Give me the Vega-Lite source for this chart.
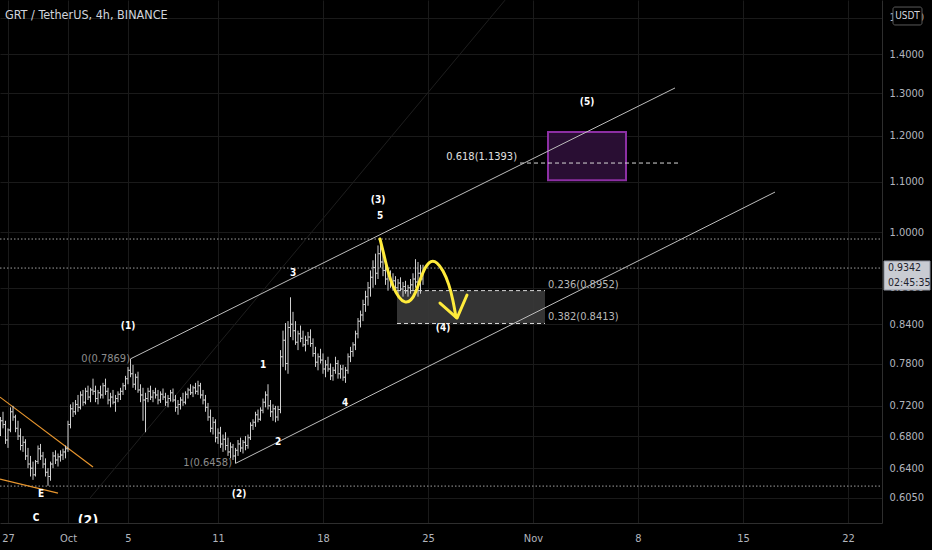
{
  "$schema": "https://vega.github.io/schema/vega-lite/v6.json",
  "width": 882,
  "height": 523,
  "autosize": {"type": "none"},
  "padding": {"left": 0, "top": 0, "right": 50, "bottom": 27},
  "background": "#000000",
  "config": {"view": {"stroke": null}, "text": {"font": "Liberation Sans Narrow, DejaVu Sans Condensed, sans-serif"}},
  "datasets": {
    "bars": [
      {"t":-12,"o":0.690,"h":0.705,"l":0.680,"c":0.700},{"t":-8,"o":0.700,"h":0.712,"l":0.690,"c":0.695},{"t":-4,"o":0.695,"h":0.700,"l":0.670,"c":0.675},{"t":0,"o":0.675,"h":0.690,"l":0.665,"c":0.688},
      {"t":4,"o":0.688,"h":0.718,"l":0.685,"c":0.712},{"t":8,"o":0.712,"h":0.720,"l":0.700,"c":0.705},{"t":12,"o":0.705,"h":0.708,"l":0.685,"c":0.690},{"t":16,"o":0.690,"h":0.700,"l":0.675,"c":0.680},
      {"t":20,"o":0.680,"h":0.690,"l":0.662,"c":0.668},{"t":24,"o":0.668,"h":0.680,"l":0.660,"c":0.672},{"t":28,"o":0.672,"h":0.676,"l":0.650,"c":0.655},{"t":32,"o":0.655,"h":0.665,"l":0.640,"c":0.645},
      {"t":36,"o":0.645,"h":0.655,"l":0.630,"c":0.640},{"t":40,"o":0.640,"h":0.648,"l":0.626,"c":0.632},{"t":44,"o":0.632,"h":0.650,"l":0.630,"c":0.648},{"t":48,"o":0.648,"h":0.668,"l":0.645,"c":0.664},
      {"t":52,"o":0.664,"h":0.670,"l":0.650,"c":0.655},{"t":56,"o":0.655,"h":0.660,"l":0.640,"c":0.645},{"t":60,"o":0.645,"h":0.652,"l":0.630,"c":0.635},{"t":64,"o":0.635,"h":0.640,"l":0.619,"c":0.630},
      {"t":68,"o":0.630,"h":0.648,"l":0.625,"c":0.645},{"t":72,"o":0.645,"h":0.660,"l":0.640,"c":0.655},{"t":76,"o":0.655,"h":0.662,"l":0.645,"c":0.650},{"t":80,"o":0.650,"h":0.658,"l":0.642,"c":0.654},
      {"t":84,"o":0.654,"h":0.662,"l":0.648,"c":0.656},{"t":88,"o":0.656,"h":0.664,"l":0.650,"c":0.660},{"t":92,"o":0.660,"h":0.668,"l":0.652,"c":0.664},{"t":96,"o":0.664,"h":0.700,"l":0.660,"c":0.695},
      {"t":100,"o":0.695,"h":0.722,"l":0.690,"c":0.716},{"t":104,"o":0.716,"h":0.725,"l":0.705,"c":0.712},{"t":108,"o":0.712,"h":0.728,"l":0.708,"c":0.722},{"t":112,"o":0.722,"h":0.735,"l":0.712,"c":0.718},
      {"t":116,"o":0.718,"h":0.740,"l":0.715,"c":0.735},{"t":120,"o":0.735,"h":0.742,"l":0.720,"c":0.725},{"t":124,"o":0.725,"h":0.745,"l":0.722,"c":0.740},{"t":128,"o":0.740,"h":0.748,"l":0.728,"c":0.732},
      {"t":132,"o":0.732,"h":0.745,"l":0.725,"c":0.742},{"t":136,"o":0.742,"h":0.758,"l":0.735,"c":0.740},{"t":140,"o":0.740,"h":0.748,"l":0.725,"c":0.730},{"t":144,"o":0.730,"h":0.742,"l":0.722,"c":0.738},
      {"t":148,"o":0.738,"h":0.748,"l":0.730,"c":0.735},{"t":152,"o":0.735,"h":0.752,"l":0.730,"c":0.748},{"t":156,"o":0.748,"h":0.758,"l":0.735,"c":0.740},{"t":160,"o":0.740,"h":0.745,"l":0.722,"c":0.728},
      {"t":164,"o":0.728,"h":0.738,"l":0.718,"c":0.732},{"t":168,"o":0.732,"h":0.742,"l":0.722,"c":0.725},{"t":172,"o":0.725,"h":0.735,"l":0.712,"c":0.730},{"t":176,"o":0.730,"h":0.740,"l":0.725,"c":0.736},
      {"t":180,"o":0.736,"h":0.745,"l":0.728,"c":0.740},{"t":184,"o":0.740,"h":0.752,"l":0.735,"c":0.748},{"t":188,"o":0.748,"h":0.762,"l":0.742,"c":0.758},{"t":192,"o":0.758,"h":0.775,"l":0.750,"c":0.770},
      {"t":196,"o":0.770,"h":0.7869,"l":0.760,"c":0.765},{"t":200,"o":0.765,"h":0.778,"l":0.745,"c":0.750},{"t":204,"o":0.750,"h":0.765,"l":0.742,"c":0.760},{"t":208,"o":0.760,"h":0.768,"l":0.738,"c":0.742},
      {"t":212,"o":0.742,"h":0.750,"l":0.725,"c":0.735},{"t":216,"o":0.735,"h":0.745,"l":0.700,"c":0.728},{"t":220,"o":0.728,"h":0.738,"l":0.685,"c":0.730},{"t":224,"o":0.730,"h":0.745,"l":0.725,"c":0.740},
      {"t":228,"o":0.740,"h":0.748,"l":0.728,"c":0.732},{"t":232,"o":0.732,"h":0.742,"l":0.725,"c":0.738},{"t":236,"o":0.738,"h":0.745,"l":0.730,"c":0.735},{"t":240,"o":0.735,"h":0.742,"l":0.722,"c":0.728},
      {"t":244,"o":0.728,"h":0.740,"l":0.724,"c":0.736},{"t":248,"o":0.736,"h":0.744,"l":0.728,"c":0.732},{"t":252,"o":0.732,"h":0.738,"l":0.720,"c":0.725},{"t":256,"o":0.725,"h":0.735,"l":0.718,"c":0.730},
      {"t":260,"o":0.730,"h":0.742,"l":0.726,"c":0.738},{"t":264,"o":0.738,"h":0.744,"l":0.725,"c":0.728},{"t":268,"o":0.728,"h":0.735,"l":0.712,"c":0.718},{"t":272,"o":0.718,"h":0.728,"l":0.708,"c":0.722},
      {"t":276,"o":0.722,"h":0.732,"l":0.715,"c":0.728},{"t":280,"o":0.728,"h":0.738,"l":0.720,"c":0.725},{"t":284,"o":0.725,"h":0.740,"l":0.722,"c":0.736},{"t":288,"o":0.736,"h":0.745,"l":0.730,"c":0.742},
      {"t":292,"o":0.742,"h":0.750,"l":0.735,"c":0.738},{"t":296,"o":0.738,"h":0.748,"l":0.732,"c":0.745},{"t":300,"o":0.745,"h":0.752,"l":0.736,"c":0.740},{"t":304,"o":0.740,"h":0.755,"l":0.735,"c":0.748},
      {"t":308,"o":0.748,"h":0.752,"l":0.730,"c":0.735},{"t":312,"o":0.735,"h":0.742,"l":0.722,"c":0.728},{"t":316,"o":0.728,"h":0.735,"l":0.712,"c":0.718},{"t":320,"o":0.718,"h":0.724,"l":0.700,"c":0.705},
      {"t":324,"o":0.705,"h":0.715,"l":0.685,"c":0.690},{"t":328,"o":0.690,"h":0.705,"l":0.682,"c":0.698},{"t":332,"o":0.698,"h":0.702,"l":0.672,"c":0.678},{"t":336,"o":0.678,"h":0.690,"l":0.670,"c":0.684},
      {"t":340,"o":0.684,"h":0.692,"l":0.665,"c":0.670},{"t":344,"o":0.670,"h":0.682,"l":0.660,"c":0.676},{"t":348,"o":0.676,"h":0.685,"l":0.662,"c":0.668},{"t":352,"o":0.668,"h":0.678,"l":0.655,"c":0.660},
      {"t":356,"o":0.660,"h":0.672,"l":0.652,"c":0.666},{"t":360,"o":0.666,"h":0.670,"l":0.650,"c":0.655},{"t":364,"o":0.655,"h":0.665,"l":0.6458,"c":0.662},{"t":368,"o":0.662,"h":0.675,"l":0.655,"c":0.670},
      {"t":372,"o":0.670,"h":0.678,"l":0.660,"c":0.665},{"t":376,"o":0.665,"h":0.675,"l":0.658,"c":0.672},{"t":380,"o":0.672,"h":0.680,"l":0.662,"c":0.668},{"t":384,"o":0.668,"h":0.682,"l":0.664,"c":0.678},
      {"t":388,"o":0.678,"h":0.698,"l":0.675,"c":0.694},{"t":392,"o":0.694,"h":0.702,"l":0.688,"c":0.698},{"t":396,"o":0.698,"h":0.712,"l":0.692,"c":0.708},{"t":400,"o":0.708,"h":0.715,"l":0.698,"c":0.702},
      {"t":404,"o":0.702,"h":0.718,"l":0.700,"c":0.714},{"t":408,"o":0.714,"h":0.730,"l":0.710,"c":0.725},{"t":412,"o":0.725,"h":0.740,"l":0.718,"c":0.735},{"t":416,"o":0.735,"h":0.750,"l":0.715,"c":0.720},
      {"t":420,"o":0.720,"h":0.728,"l":0.705,"c":0.712},{"t":424,"o":0.712,"h":0.722,"l":0.700,"c":0.716},{"t":428,"o":0.716,"h":0.720,"l":0.698,"c":0.705},{"t":432,"o":0.705,"h":0.720,"l":0.700,"c":0.715},
      {"t":436,"o":0.715,"h":0.800,"l":0.710,"c":0.790},{"t":440,"o":0.790,"h":0.830,"l":0.775,"c":0.815},{"t":444,"o":0.815,"h":0.842,"l":0.770,"c":0.780},{"t":448,"o":0.780,"h":0.845,"l":0.765,"c":0.835},
      {"t":452,"o":0.835,"h":0.884,"l":0.820,"c":0.840},{"t":456,"o":0.840,"h":0.860,"l":0.815,"c":0.830},{"t":460,"o":0.830,"h":0.845,"l":0.808,"c":0.812},{"t":464,"o":0.812,"h":0.830,"l":0.800,"c":0.825},
      {"t":468,"o":0.825,"h":0.838,"l":0.812,"c":0.818},{"t":472,"o":0.818,"h":0.830,"l":0.805,"c":0.808},{"t":476,"o":0.808,"h":0.822,"l":0.798,"c":0.815},{"t":480,"o":0.815,"h":0.828,"l":0.808,"c":0.820},
      {"t":484,"o":0.820,"h":0.832,"l":0.805,"c":0.810},{"t":488,"o":0.810,"h":0.818,"l":0.790,"c":0.795},{"t":492,"o":0.795,"h":0.805,"l":0.775,"c":0.782},{"t":496,"o":0.782,"h":0.795,"l":0.770,"c":0.790},
      {"t":500,"o":0.790,"h":0.802,"l":0.780,"c":0.785},{"t":504,"o":0.785,"h":0.795,"l":0.765,"c":0.772},{"t":508,"o":0.772,"h":0.785,"l":0.760,"c":0.778},{"t":512,"o":0.778,"h":0.790,"l":0.768,"c":0.772},
      {"t":516,"o":0.772,"h":0.780,"l":0.756,"c":0.762},{"t":520,"o":0.762,"h":0.775,"l":0.755,"c":0.770},{"t":524,"o":0.770,"h":0.790,"l":0.765,"c":0.780},{"t":528,"o":0.780,"h":0.785,"l":0.758,"c":0.765},
      {"t":532,"o":0.765,"h":0.778,"l":0.758,"c":0.772},{"t":536,"o":0.772,"h":0.778,"l":0.755,"c":0.760},{"t":540,"o":0.760,"h":0.775,"l":0.752,"c":0.770},{"t":544,"o":0.770,"h":0.795,"l":0.765,"c":0.790},
      {"t":548,"o":0.790,"h":0.805,"l":0.782,"c":0.798},{"t":552,"o":0.798,"h":0.812,"l":0.790,"c":0.808},{"t":556,"o":0.808,"h":0.830,"l":0.800,"c":0.825},{"t":560,"o":0.825,"h":0.850,"l":0.818,"c":0.845},
      {"t":564,"o":0.845,"h":0.862,"l":0.835,"c":0.855},{"t":568,"o":0.855,"h":0.880,"l":0.845,"c":0.872},{"t":572,"o":0.872,"h":0.895,"l":0.860,"c":0.885},{"t":576,"o":0.885,"h":0.910,"l":0.870,"c":0.900},
      {"t":580,"o":0.900,"h":0.930,"l":0.885,"c":0.918},{"t":584,"o":0.918,"h":0.948,"l":0.900,"c":0.935},{"t":588,"o":0.935,"h":0.960,"l":0.905,"c":0.925},{"t":592,"o":0.925,"h":0.975,"l":0.915,"c":0.960},
      {"t":596,"o":0.960,"h":0.988,"l":0.935,"c":0.945},{"t":600,"o":0.945,"h":0.965,"l":0.920,"c":0.930},{"t":604,"o":0.930,"h":0.950,"l":0.905,"c":0.915},{"t":608,"o":0.915,"h":0.935,"l":0.895,"c":0.920},
      {"t":612,"o":0.920,"h":0.930,"l":0.900,"c":0.905},{"t":616,"o":0.905,"h":0.925,"l":0.895,"c":0.912},{"t":620,"o":0.912,"h":0.920,"l":0.892,"c":0.900},{"t":624,"o":0.900,"h":0.915,"l":0.890,"c":0.908},
      {"t":628,"o":0.908,"h":0.918,"l":0.895,"c":0.898},{"t":632,"o":0.898,"h":0.910,"l":0.885,"c":0.902},{"t":636,"o":0.902,"h":0.912,"l":0.890,"c":0.895},{"t":640,"o":0.895,"h":0.905,"l":0.885,"c":0.900},
      {"t":644,"o":0.900,"h":0.915,"l":0.890,"c":0.905},{"t":648,"o":0.905,"h":0.925,"l":0.895,"c":0.915},{"t":652,"o":0.915,"h":0.950,"l":0.900,"c":0.910},{"t":656,"o":0.910,"h":0.945,"l":0.885,"c":0.925},
      {"t":660,"o":0.925,"h":0.940,"l":0.890,"c":0.915},{"t":664,"o":0.915,"h":0.940,"l":0.905,"c":0.934}
    ],
    "lines": [
      {"id":"up","s":0,"t":196,"p":0.7869},{"id":"up","s":1,"t":1067.2,"p":1.313},
      {"id":"lo","s":0,"t":364,"p":0.6458},{"id":"lo","s":1,"t":1227.2,"p":1.0785},
      {"id":"f1","s":0,"t":131.2,"p":0.6048},{"id":"f1","s":1,"t":795.2,"p":1.55},
      {"id":"o1","s":0,"t":-12.8,"p":0.732},{"id":"o1","s":1,"t":136,"p":0.6413},
      {"id":"o2","s":0,"t":-12.8,"p":0.627},{"id":"o2","s":1,"t":80,"p":0.6105},
      {"id":"yc","s":0,"t":595.2,"p":0.9869},{"id":"yc","s":1,"t":601.6,"p":0.9575},{"id":"yc","s":2,"t":608,"p":0.9272},{"id":"yc","s":3,"t":616,"p":0.9013},
      {"id":"yc","s":4,"t":625.6,"p":0.8827},{"id":"yc","s":5,"t":635.2,"p":0.8744},{"id":"yc","s":6,"t":644.8,"p":0.8777},{"id":"yc","s":7,"t":652.8,"p":0.8928},
      {"id":"yc","s":8,"t":659.2,"p":0.9133},{"id":"yc","s":9,"t":667.2,"p":0.936},{"id":"yc","s":10,"t":676.8,"p":0.9484},{"id":"yc","s":11,"t":686.4,"p":0.9449},
      {"id":"yc","s":12,"t":696,"p":0.9307},{"id":"yc","s":13,"t":705.6,"p":0.9064},{"id":"yc","s":14,"t":712,"p":0.8794},{"id":"yc","s":15,"t":716.8,"p":0.8516},
      {"id":"ya","s":0,"t":691.2,"p":0.8744},{"id":"ya","s":1,"t":718.4,"p":0.85},{"id":"ya","s":2,"t":734.4,"p":0.8878}
    ],
    "boxes": [
      {"id":"fib","t":622.4,"t2":859.2,"p":0.8413,"p2":0.8952},
      {"id":"tgt","t":864,"t2":988.8,"p":1.103,"p2":1.208},
      {"id":"pbox","t":1401.6,"t2":1475.2,"p":0.8962,"p2":0.9467},
      {"id":"usdt","t":1416,"t2":1462.4,"p":1.479,"p2":1.53}
    ],
    "hl": [
      {"t":-12.8,"t2":1398.4,"p":0.9869},
      {"t":-12.8,"t2":1398.4,"p":0.9342},
      {"t":-12.8,"t2":1398.4,"p":0.6187}
    ],
    "fibl": [
      {"t":622.4,"t2":859.2,"p":0.8952},
      {"t":622.4,"t2":859.2,"p":0.8413},
      {"t":819.2,"t2":1072,"p":1.1393}
    ],
    "texts": [
      {"k":"w","label":"(1)","t":192,"p":0.837},
      {"k":"w","label":"(2)","t":369.6,"p":0.6094},
      {"k":"w","label":"E","t":52.8,"p":0.6094},
      {"k":"w","label":"C","t":44.8,"p":0.5823},
      {"k":"w","label":"1","t":408,"p":0.7777},
      {"k":"w","label":"2","t":432,"p":0.6723},
      {"k":"w","label":"3","t":456,"p":0.9254},
      {"k":"w","label":"4","t":539.2,"p":0.7238},
      {"k":"w","label":"5","t":595.2,"p":1.0307},
      {"k":"w","label":"(3)","t":592,"p":1.0624},
      {"k":"w","label":"(4)","t":696,"p":0.834},
      {"k":"w","label":"(5)","t":926.4,"p":1.2786},
      {"k":"wl","label":"(2)","t":128,"p":0.5795},
      {"k":"fl","label":"0.236(0.8952)","t":864,"p":0.9047},
      {"k":"fl","label":"0.382(0.8413)","t":864,"p":0.8516},
      {"k":"fr","label":"0.618(1.1393)","t":814.4,"p":1.152},
      {"k":"fg","label":"0(0.7869)","t":195.2,"p":0.7866},
      {"k":"fg","label":"1(0.6458)","t":358.4,"p":0.6458},
      {"k":"title","label":"GRT / TetherUS, 4h, BINANCE","t":-4.8,"p":1.507},
      {"k":"pb","label":"0.9342","t":1408,"p":0.9342},
      {"k":"pb","label":"02:45:35","t":1408,"p":0.908},
      {"k":"u","label":"USDT","t":1439.2,"p":1.504}
    ]
  },
  "encoding": {
    "x": {"field":"t","type":"quantitative","scale":{"domain":[-12.8,1398.4],"nice":false,"zero":false},
      "axis":{"title":null,"values":[0,96,192,336,504,672,840,1008,1176,1344],
        "labelExpr":"['27','Oct','5','11','18','25','Nov','8','15','22'][indexof([0,96,192,336,504,672,840,1008,1176,1344], datum.value)]",
        "grid":true,"gridColor":"#1a1a1a","ticks":false,"domainColor":"#2e2e2e","labelColor":"#b2b5be",
        "labelFont":"Liberation Sans Narrow, DejaVu Sans Condensed, sans-serif","labelFontSize":11,"labelPadding":9,"labelFlush":false,"labelOverlap":false}},
    "y": {"field":"p","type":"quantitative","scale":{"type":"log","domain":[0.577,1.5505],"nice":false,"zero":false},
      "axis":{"title":null,"orient":"right","values":[0.605,0.64,0.68,0.72,0.78,0.84,0.9,1.0,1.1,1.2,1.3,1.4,1.5],"format":".4f",
        "grid":true,"gridColor":"#1a1a1a","ticks":false,"domainColor":"#2e2e2e","labelColor":"#b2b5be",
        "labelFont":"Liberation Sans Narrow, DejaVu Sans Condensed, sans-serif","labelFontSize":11,"labelPadding":7,"labelAlign":"left","labelOverlap":false}}
  },
  "layer": [
    {"data":{"name":"boxes"},"transform":[{"filter":"datum.id=='fib'"}],
     "mark":{"type":"rect","fill":"#3a3a3a","fillOpacity":0.9},
     "encoding":{"x2":{"field":"t2"},"y2":{"field":"p2"}}},
    {"data":{"name":"boxes"},"transform":[{"filter":"datum.id=='tgt'"}],
     "mark":{"type":"rect","fill":"#2d0f38","stroke":"#8c2fa3","strokeWidth":2,"fillOpacity":0.9},
     "encoding":{"x2":{"field":"t2"},"y2":{"field":"p2"}}},
    {"data":{"name":"hl"},"mark":{"type":"rule","color":"#a0a0a0","strokeDash":[1.5,2],"strokeWidth":1},
     "encoding":{"x2":{"field":"t2"}}},
    {"data":{"name":"fibl"},"mark":{"type":"rule","color":"#d8d8d8","strokeDash":[4,3],"strokeWidth":1},
     "encoding":{"x2":{"field":"t2"}}},
    {"data":{"name":"lines"},"transform":[{"filter":"datum.id=='f1'"}],
     "mark":{"type":"line","color":"#1e1e1e","strokeWidth":1},
     "encoding":{"detail":{"field":"id"},"order":{"field":"s"}}},
    {"data":{"name":"lines"},"transform":[{"filter":"datum.id=='up' || datum.id=='lo'"}],
     "mark":{"type":"line","color":"#bdbdbd","strokeWidth":1},
     "encoding":{"detail":{"field":"id"},"order":{"field":"s"}}},
    {"data":{"name":"lines"},"transform":[{"filter":"datum.id=='o1' || datum.id=='o2'"}],
     "mark":{"type":"line","color":"#e8962e","strokeWidth":1.2},
     "encoding":{"detail":{"field":"id"},"order":{"field":"s"}}},
    {"data":{"name":"bars"},"mark":{"type":"rule","color":"#d0d0d0","strokeWidth":1},
     "encoding":{"y":{"field":"l","type":"quantitative"},"y2":{"field":"h"}}},
    {"data":{"name":"bars"},"mark":{"type":"tick","orient":"horizontal","color":"#d0d0d0","size":2,"thickness":1,"xOffset":-1},
     "encoding":{"y":{"field":"o","type":"quantitative"}}},
    {"data":{"name":"bars"},"mark":{"type":"tick","orient":"horizontal","color":"#d0d0d0","size":2,"thickness":1,"xOffset":1},
     "encoding":{"y":{"field":"c","type":"quantitative"}}},
    {"data":{"name":"lines"},"transform":[{"filter":"datum.id=='yc'"}],
     "mark":{"type":"line","color":"#ffeb3b","strokeWidth":3,"interpolate":"basis","strokeCap":"round"},
     "encoding":{"order":{"field":"s"}}},
    {"data":{"name":"lines"},"transform":[{"filter":"datum.id=='ya'"}],
     "mark":{"type":"line","color":"#ffeb3b","strokeWidth":3,"strokeCap":"round","strokeJoin":"round"},
     "encoding":{"order":{"field":"s"}}},
    {"data":{"name":"texts"},"transform":[{"filter":"datum.k=='w'"}],
     "mark":{"type":"text","color":"#ffffff","fontSize":10,"fontWeight":"bold","align":"center","baseline":"middle"},
     "encoding":{"text":{"field":"label"}}},
    {"data":{"name":"texts"},"transform":[{"filter":"datum.k=='wl'"}],
     "mark":{"type":"text","color":"#ffffff","fontSize":14,"fontWeight":"bold","align":"center","baseline":"middle","clip":true},
     "encoding":{"text":{"field":"label"}}},
    {"data":{"name":"texts"},"transform":[{"filter":"datum.k=='fl'"}],
     "mark":{"type":"text","color":"#b8b8b8","fontSize":11,"align":"left","baseline":"middle"},
     "encoding":{"text":{"field":"label"}}},
    {"data":{"name":"texts"},"transform":[{"filter":"datum.k=='fr'"}],
     "mark":{"type":"text","color":"#e0e0e0","fontSize":11,"align":"right","baseline":"middle"},
     "encoding":{"text":{"field":"label"}}},
    {"data":{"name":"texts"},"transform":[{"filter":"datum.k=='fg'"}],
     "mark":{"type":"text","color":"#8c8c8c","fontSize":11,"align":"right","baseline":"middle"},
     "encoding":{"text":{"field":"label"}}},
    {"data":{"name":"texts"},"transform":[{"filter":"datum.k=='title'"}],
     "mark":{"type":"text","color":"#d1d4dc","fontSize":12.5,"align":"left","baseline":"middle"},
     "encoding":{"text":{"field":"label"}}},
    {"data":{"name":"boxes"},"transform":[{"filter":"datum.id=='pbox'"}],
     "mark":{"type":"rect","fill":"#c9ccd3","stroke":"#8f949e","strokeWidth":1},
     "encoding":{"x2":{"field":"t2"},"y2":{"field":"p2"}}},
    {"data":{"name":"boxes"},"transform":[{"filter":"datum.id=='usdt'"}],
     "mark":{"type":"rect","fill":"#000000","stroke":"#5a5a5a","strokeWidth":1,"cornerRadius":2},
     "encoding":{"x2":{"field":"t2"},"y2":{"field":"p2"}}},
    {"data":{"name":"texts"},"transform":[{"filter":"datum.k=='pb'"}],
     "mark":{"type":"text","color":"#1e222d","fontSize":10.5,"align":"left","baseline":"middle"},
     "encoding":{"text":{"field":"label"}}},
    {"data":{"name":"texts"},"transform":[{"filter":"datum.k=='u'"}],
     "mark":{"type":"text","color":"#d1d4dc","fontSize":10,"align":"center","baseline":"middle"},
     "encoding":{"text":{"field":"label"}}}
  ]
}
